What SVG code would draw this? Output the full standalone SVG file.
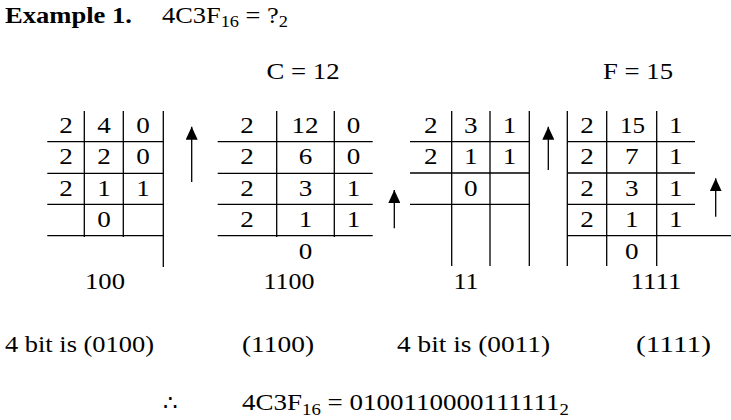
<svg xmlns="http://www.w3.org/2000/svg" width="731" height="420" viewBox="0 0 731 420">
<defs>
<style>
text{font-family:"Liberation Serif","Times New Roman",serif;font-size:23px;fill:#000}
.c{text-anchor:middle}
.d{text-anchor:middle;transform-box:fill-box;transform-origin:center;transform:scale(1.18,1)}
.b{font-weight:bold}
.sub{font-size:16px}
line{stroke:#000;stroke-width:1.3}
</style>
<marker id="ah" viewBox="0 0 13 12" refX="13" refY="6" markerWidth="13" markerHeight="12" markerUnits="userSpaceOnUse" orient="auto">
<path d="M0,0 L13,6 L0,12 z" fill="#000"/>
</marker>
</defs>
<rect width="731" height="420" fill="#fff"/>
<g id="title">
<text x="5" y="23" class="b" textLength="127" lengthAdjust="spacingAndGlyphs">Example 1.</text>
<text x="162" y="23" textLength="126" lengthAdjust="spacingAndGlyphs">4C3F<tspan class="sub" dy="4">16</tspan><tspan dy="-4"> = ?</tspan><tspan class="sub" dy="4">2</tspan></text>
</g>
<g id="labels">
<text x="303" y="79" class="c" textLength="73" lengthAdjust="spacingAndGlyphs">C = 12</text>
<text x="638" y="79" class="c" textLength="70" lengthAdjust="spacingAndGlyphs">F = 15</text>
</g>
<g id="table1">
<line x1="84.3" y1="111" x2="84.3" y2="237"/>
<line x1="123.3" y1="111" x2="123.3" y2="237"/>
<line x1="163.3" y1="111" x2="163.3" y2="267"/>
<line x1="47.3" y1="141.7" x2="163.3" y2="141.7"/>
<line x1="47.3" y1="173.3" x2="163.3" y2="173.3"/>
<line x1="47.3" y1="204.3" x2="163.3" y2="204.3"/>
<line x1="47.3" y1="235.7" x2="163.3" y2="235.7"/>
<text x="66" y="133" class="d">2</text><text x="104" y="133" class="d">4</text><text x="143" y="133" class="d">0</text>
<text x="66" y="164.5" class="d">2</text><text x="104" y="164.5" class="d">2</text><text x="143" y="164.5" class="d">0</text>
<text x="66" y="196" class="d">2</text><text x="104" y="196" class="d">1</text><text x="143" y="196" class="d">1</text>
<text x="104" y="227" class="d">0</text>
<text x="105" y="289" class="c" textLength="40" lengthAdjust="spacingAndGlyphs">100</text>
</g>
<g id="table2">
<line x1="276.7" y1="111" x2="276.7" y2="237"/>
<line x1="334.3" y1="111" x2="334.3" y2="237"/>
<line x1="217.7" y1="141.7" x2="372.7" y2="141.7"/>
<line x1="217.7" y1="173.3" x2="372.7" y2="173.3"/>
<line x1="217.7" y1="204.3" x2="372.7" y2="204.3"/>
<line x1="217.7" y1="235.7" x2="372.7" y2="235.7"/>
<text x="247" y="133" class="d">2</text><text x="305" y="133" class="c" textLength="27" lengthAdjust="spacingAndGlyphs">12</text><text x="353.5" y="133" class="d">0</text>
<text x="247" y="164.5" class="d">2</text><text x="305.5" y="164.5" class="d">6</text><text x="353.5" y="164.5" class="d">0</text>
<text x="247" y="196" class="d">2</text><text x="305.5" y="196" class="d">3</text><text x="353.5" y="196" class="d">1</text>
<text x="247" y="227" class="d">2</text><text x="305.5" y="227" class="d">1</text><text x="353.5" y="227" class="d">1</text>
<text x="305.5" y="259" class="d">0</text>
<text x="289" y="289" class="c" textLength="51" lengthAdjust="spacingAndGlyphs">1100</text>
</g>
<g id="table3">
<line x1="451.7" y1="111" x2="451.7" y2="266"/>
<line x1="490" y1="111" x2="490" y2="266"/>
<line x1="529.3" y1="111" x2="529.3" y2="266"/>
<line x1="410" y1="141.7" x2="529.3" y2="141.7"/>
<line x1="410" y1="173" x2="529.3" y2="173"/>
<line x1="410" y1="204.3" x2="529.3" y2="204.3"/>
<text x="430.8" y="133" class="d">2</text><text x="470.8" y="133" class="d">3</text><text x="509.6" y="133" class="d">1</text>
<text x="430.8" y="164.5" class="d">2</text><text x="470.8" y="164.5" class="d">1</text><text x="509.6" y="164.5" class="d">1</text>
<text x="470.8" y="196" class="d">0</text>
<text x="466" y="289" class="c" textLength="25" lengthAdjust="spacingAndGlyphs">11</text>
</g>
<g id="table4">
<line x1="567.3" y1="111" x2="567.3" y2="266"/>
<line x1="606.7" y1="111" x2="606.7" y2="266"/>
<line x1="656.7" y1="111" x2="656.7" y2="266"/>
<line x1="567.3" y1="141.7" x2="695" y2="141.7"/>
<line x1="567.3" y1="173" x2="695" y2="173"/>
<line x1="567.3" y1="204.3" x2="695" y2="204.3"/>
<line x1="567.3" y1="235.7" x2="731" y2="235.7"/>
<text x="587" y="133" class="d">2</text><text x="632.5" y="133" class="c" textLength="25" lengthAdjust="spacingAndGlyphs">15</text><text x="675.8" y="133" class="d">1</text>
<text x="587" y="164.5" class="d">2</text><text x="631.7" y="164.5" class="d">7</text><text x="675.8" y="164.5" class="d">1</text>
<text x="587" y="196" class="d">2</text><text x="631.7" y="196" class="d">3</text><text x="675.8" y="196" class="d">1</text>
<text x="587" y="227" class="d">2</text><text x="631.7" y="227" class="d">1</text><text x="675.8" y="227" class="d">1</text>
<text x="631.7" y="259" class="d">0</text>
<text x="656" y="289" class="c" textLength="51" lengthAdjust="spacingAndGlyphs">1111</text>
</g>
<g id="connectors">
<line x1="191.7" y1="182" x2="191.7" y2="126.7" marker-end="url(#ah)"/>
<line x1="394.3" y1="228.3" x2="394.3" y2="190" marker-end="url(#ah)"/>
<line x1="548.3" y1="170" x2="548.3" y2="126.7" marker-end="url(#ah)"/>
<line x1="715.7" y1="216.7" x2="715.7" y2="178.3" marker-end="url(#ah)"/>
</g>
<g id="results">
<text x="5" y="352" textLength="149" lengthAdjust="spacingAndGlyphs">4 bit is (0100)</text>
<text x="242" y="352" textLength="72" lengthAdjust="spacingAndGlyphs">(1100)</text>
<text x="397" y="352" textLength="153" lengthAdjust="spacingAndGlyphs">4 bit is (0011)</text>
<text x="636" y="352" textLength="75" lengthAdjust="spacingAndGlyphs">(1111)</text>
<text x="170" y="410" class="c">∴</text>
<text x="242" y="410" textLength="327" lengthAdjust="spacingAndGlyphs">4C3F<tspan class="sub" dy="5">16</tspan><tspan dy="-5"> = 0100110000111111</tspan><tspan class="sub" dy="5">2</tspan></text>
</g>
</svg>
